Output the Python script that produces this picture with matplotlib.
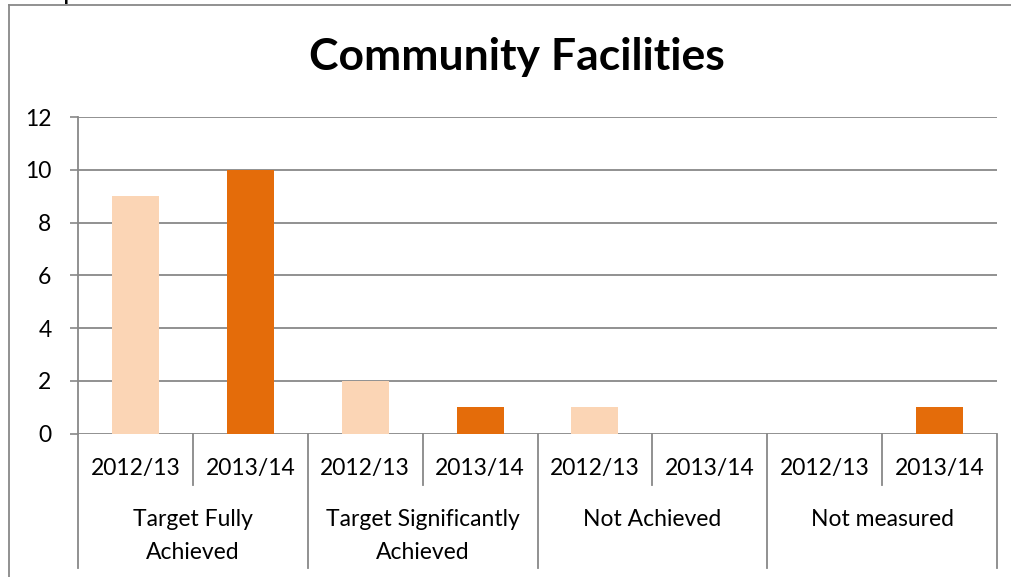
"""Community Facilities: target status by year, Excel-style grouped category axis."""

import matplotlib.pyplot as plt
from matplotlib.lines import Line2D
from matplotlib.transforms import blended_transform_factory

# Values
GROUPS = ["Target Fully\nAchieved", "Target Significantly\nAchieved", "Not Achieved", "Not measured"]
YEARS = ["2012/13", "2013/14"]
VALUES_2012 = [9, 2, 1, 0]
VALUES_2013 = [10, 1, 0, 1]
Y_TICKS = [0, 2, 4, 6, 8, 10, 12]

LIGHT = "#FBD5B5"
DARK = "#E46C0A"
GRID = "#888888"
FS = 16.5

plt.rcParams["font.family"] = ["Lato", "DejaVu Sans"]

W, H = 1011, 577
fig = plt.figure(figsize=(W / 100, H / 100), dpi=100)

# plot area in pixels (from the reference)
x0, x1 = 78, 997
y_top, y_zero = 117.3, 433.5
ax = fig.add_axes([x0 / W, 1 - y_zero / H, (x1 - x0) / W, (y_zero - y_top) / H])

positions = []
heights = []
colors = []
for i in range(len(GROUPS)):
    for j, vals in enumerate([VALUES_2012, VALUES_2013]):
        positions.append(i * 2 + j)
        heights.append(vals[i])
        colors.append(LIGHT if j == 0 else DARK)

ax.bar(positions, heights, width=0.41, color=colors, zorder=3)

ax.set_xlim(-0.5, len(positions) - 0.5)
ax.set_ylim(0, 12)
ax.set_yticks(Y_TICKS)
ax.set_yticklabels([str(t) for t in Y_TICKS], fontsize=FS)
ax.tick_params(axis="y", length=6, width=1.2, color=GRID, pad=13)
ax.set_xticks([])
ax.yaxis.grid(True, color=GRID, linewidth=1.3, zorder=1)
for side in ("top", "right", "bottom"):
    ax.spines[side].set_visible(False)
ax.spines["left"].set_color(GRID)
ax.spines["left"].set_linewidth(1.3)

# multi-level category axis below the plot
axis_h = y_zero - y_top
def below(px):
    return -(px - y_zero) / axis_h

trans = blended_transform_factory(ax.transData, ax.transAxes)
n = len(positions)
for k in range(n + 1):
    x = k - 0.5
    bottom = below(568.3) if k % 2 == 0 else below(485)
    ax.add_line(Line2D([x, x], [0, bottom], transform=trans, color=GRID,
                       linewidth=1.3, clip_on=False))
for k, pos in enumerate(positions):
    ax.text(pos, below(469), YEARS[k % 2], transform=trans, ha="center",
            va="center", fontsize=FS)
for i, name in enumerate(GROUPS):
    for row, part in enumerate(name.split("\n")):
        ax.text(i * 2 + 0.5, below(519 + 33.7 * row), part, transform=trans,
                ha="center", va="center", fontsize=FS)

fig.text(517 / W, 1 - 70 / H, "Community Facilities", fontsize=32,
         fontweight="bold", ha="center", va="baseline")

# outer chart border (right edge is cut off in the reference)
fig.add_artist(Line2D([8.5 / W, 8.5 / W], [1 - 5 / H, 0], transform=fig.transFigure,
                      color=GRID, linewidth=1.3))
fig.add_artist(Line2D([8.5 / W, 1], [1 - 5 / H, 1 - 5 / H], transform=fig.transFigure,
                      color=GRID, linewidth=1.3))
# a glimpse of text above the chart, cut off by the crop
fig.text(63 / W, 1 + 1 / H, "p", fontsize=20, va="baseline", ha="left")

fig.savefig("out.png", dpi=100)
